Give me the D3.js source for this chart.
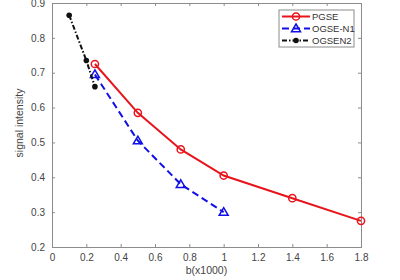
<!DOCTYPE html>
<html>
<head>
<meta charset="utf-8">
<script src="https://cdn.jsdelivr.net/npm/d3@7"></script>
<style>
  body { margin: 0; background: #fff; }
  text { font-family: "Liberation Sans", Arial, sans-serif; }
</style>
</head>
<body>
<div id="chart"></div>
<script>
      // data
      var pgseX = [0.25, 0.5, 0.75, 1, 1.4, 1.8];
      var pgseY = [0.725, 0.585, 0.48, 0.405, 0.34, 0.275];
      var ogseN1X = [0.25, 0.5, 0.75, 1];
      var ogseN1Y = [0.695, 0.505, 0.38, 0.3];
      var ogseN2X = [0.1, 0.2, 0.25];
      var ogseN2Y = [0.865, 0.735, 0.66];
      var xTicks = [0, 0.2, 0.4, 0.6, 0.8, 1, 1.2, 1.4, 1.6, 1.8];
      var yTicks = [0.2, 0.3, 0.4, 0.5, 0.6, 0.7, 0.8, 0.9];
      var seriesNames = ["PGSE", "OGSE-N1", "OGSEN2"];

      var margin = {top: 3, right: 39, bottom: 33, left: 52};
      var width = 400 - margin.left - margin.right,
          height = 280 - margin.top - margin.bottom;

      var svg = d3.select("#chart").append("svg")
          .attr("width", 400)
          .attr("height", 280);
      var canvas = svg.append("g")
          .attr("transform", "translate(" + margin.left + "," + margin.top + ")");

      var xScale = d3.scaleLinear().domain([0, 1.8]).range([0, width]);
      var yScale = d3.scaleLinear().domain([0.2, 0.9]).range([height, 0]);

      var axisColor = "#262626";

      // axes (MATLAB style, ticks inside, box on)
      var xAxis = d3.axisBottom(xScale).tickValues(xTicks).tickSize(-3).tickPadding(7)
          .tickFormat(d3.format("~g"));
      var yAxis = d3.axisLeft(yScale).tickValues(yTicks).tickSize(-3).tickPadding(7)
          .tickFormat(d3.format(".1f"));
      var xAxisTop = d3.axisTop(xScale).tickValues(xTicks).tickSize(-3).tickFormat("");
      var yAxisRight = d3.axisRight(yScale).tickValues(yTicks).tickSize(-3).tickFormat("");

      canvas.append("g").attr("class", "x axis")
          .attr("transform", "translate(0," + height + ")").call(xAxis);
      canvas.append("g").attr("class", "y axis").call(yAxis);
      canvas.append("g").attr("class", "x axis").call(xAxisTop);
      canvas.append("g").attr("class", "y axis")
          .attr("transform", "translate(" + width + ",0)").call(yAxisRight);

      canvas.selectAll(".axis path").attr("stroke", "#8c8c8c").attr("stroke-width", 1);
      canvas.selectAll(".axis line").attr("stroke", "#8c8c8c");
      canvas.selectAll(".axis text").attr("fill", "#444").style("font-size", "10px");

      // axis labels
      canvas.append("text")
          .attr("x", width / 2)
          .attr("y", height + 27)
          .attr("text-anchor", "middle")
          .attr("fill", "#444")
          .style("font-size", "10.5px")
          .text("b(x1000)");
      canvas.append("text")
          .attr("transform", "rotate(-90)")
          .attr("x", -(height / 2) + 2)
          .attr("y", -29)
          .attr("text-anchor", "middle")
          .attr("fill", "#444")
          .style("font-size", "10.5px")
          .text("signal intensity");

      var line = d3.line()
          .x(function(d) { return xScale(d.x); })
          .y(function(d) { return yScale(d.y); });

      function toPoints(xs, ys) {
          return xs.map(function(x, i) { return {x: x, y: ys[i]}; });
      }

      var series = [
        {name: seriesNames[0], data: toPoints(pgseX, pgseY), color: "#e8141b", dash: null, marker: "circle"},
        {name: seriesNames[1], data: toPoints(ogseN1X, ogseN1Y), color: "#1010e6", dash: "7,4", marker: "triangle"},
        {name: seriesNames[2], data: toPoints(ogseN2X, ogseN2Y), color: "#111", dash: "5,2,1.5,2", marker: "dot"}
      ];

      function drawMarker(g, type, color, cx, cy) {
          if (type == "circle") {
              g.append("circle").attr("cx", cx).attr("cy", cy).attr("r", 3.6)
                  .attr("fill", "none").attr("stroke", color).attr("stroke-width", 1.5);
          } else if (type == "triangle") {
              var s = 4.5;
              g.append("path")
                  .attr("d", "M" + cx + "," + (cy - s) + "L" + (cx + s) + "," + (cy + s * 0.7) +
                        "L" + (cx - s) + "," + (cy + s * 0.7) + "Z")
                  .attr("fill", "none").attr("stroke", color).attr("stroke-width", 1.5);
          } else {
              g.append("circle").attr("cx", cx).attr("cy", cy).attr("r", 2.8).attr("fill", color);
          }
      }

      series.forEach(function(s) {
          canvas.append("path")
              .datum(s.data)
              .attr("fill", "none")
              .attr("stroke", s.color)
              .attr("stroke-width", 2)
              .attr("stroke-dasharray", s.dash)
              .attr("d", line);
          var g = canvas.append("g");
          s.data.forEach(function(d) {
              drawMarker(g, s.marker, s.color, xScale(d.x), yScale(d.y));
          });
      });

      // legend
      var legend = svg.append("g").attr("transform", "translate(279,10)");
      legend.append("rect").attr("width", 75).attr("height", 37)
          .attr("fill", "#fff").attr("stroke", "#8c8c8c").attr("stroke-width", 1);
      series.forEach(function(s, i) {
          var yy = 6.5 + i * 12;
          legend.append("line")
              .attr("x1", 3).attr("x2", 31).attr("y1", yy).attr("y2", yy)
              .attr("stroke", s.color).attr("stroke-width", 2)
              .attr("stroke-dasharray", s.dash);
          drawMarker(legend, s.marker, s.color, 17, yy);
          legend.append("text")
              .attr("x", 33).attr("y", yy + 3.5)
              .attr("fill", "#333")
              .style("font-size", "9.5px")
              .text(s.name);
      });
</script>
</body>
</html>
